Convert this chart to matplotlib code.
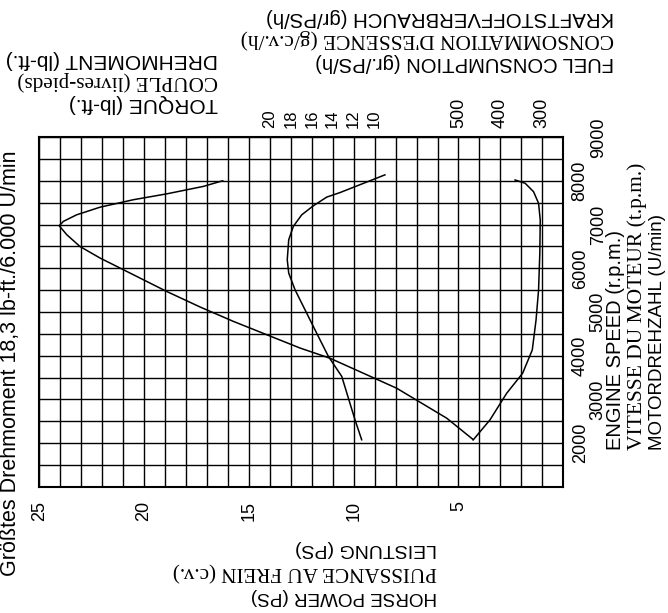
import numpy as np
import matplotlib.pyplot as plt

# ---- data ----
hp_ticks = [25, 20, 15, 10, 5]
torque_ticks = [20, 18, 16, 14, 12, 10]
fuel_ticks = [500, 400, 300]
rpm_even = [2000, 4000, 6000, 8000]
rpm_odd = [3000, 5000, 7000, 9000]

# horse power (PS) vs engine speed
hp_rpm = [2087, 2568, 3255, 3598, 3941, 4175, 4480, 4785, 5115, 5470, 5855,
          6235, 6500, 6770, 6975, 7075, 7225, 7400, 7570, 7705, 7875, 8005]
hp_ps = [4.32, 5.56, 7.95, 9.54, 11.13, 12.56, 14.15, 15.74, 17.33, 18.92, 20.52,
         22.1, 23.06, 23.69, 24.05, 23.85, 23.22, 22.1, 20.52, 18.92, 17.18, 16.25]

# torque (lb-ft) vs engine speed
tq_rpm = [2075, 2535, 3525, 3985, 4595, 5125, 5510, 5890, 6195, 6655, 6960,
          7225, 7430, 7630, 7735, 8140]
tq_lbft = [11.24, 11.88, 13.14, 14.42, 15.7, 16.8, 17.6, 18.2, 18.34, 18.2, 17.76,
           16.96, 15.86, 14.58, 13.3, 9.02]

# fuel consumption (g/PS/h) vs engine speed
fuel_rpm = [2071, 2529, 3140, 3598, 4131, 4818, 5505, 6352, 7107, 7489, 7755, 7947, 8023]
fuel_g = [465, 425, 385, 347, 324, 315, 309, 306, 305, 309, 321, 341, 365]

W, H = 668, 613
SANS = 'Liberation Sans'
SERIF = 'Liberation Serif'


def fx(x):
    return x / W


def fy(y):
    return 1 - y / H


fig = plt.figure(figsize=(W / 100, H / 100), dpi=100, facecolor='white')
ax = fig.add_axes([fx(39.3), fy(486.7), 524 / W, 349.4 / H])

ax.set_xlim(25, 0)
ax.set_ylim(1000, 9000)
ax.set_xticks(np.arange(0, 26, 1), minor=True)
ax.set_yticks(np.arange(1000, 9001, 500), minor=True)
ax.set_axisbelow(True)
for s in ax.spines.values():
    s.set_linewidth(1.5)

# power ticks at the bottom
ax.set_xticks(hp_ticks)
ax.set_xticklabels([str(v) for v in hp_ticks], rotation=90, family=SANS, fontsize=13)
ax.tick_params(axis='x', which='both', length=0, pad=10)

# engine speed ticks on the right, staggered
ax.yaxis.tick_right()
ax.set_yticks(rpm_even)
ax.set_yticklabels([str(v) for v in rpm_even], rotation=90, va='center',
                   family=SANS, fontsize=13)
ax.tick_params(axis='y', which='both', length=0, pad=6)
ax.grid(which='both', color='black', lw=1.0)

sec = ax.secondary_yaxis('right')
sec.set_yticks(rpm_odd)
sec.set_yticklabels([str(v) for v in rpm_odd], rotation=90, va='center',
                    family=SANS, fontsize=13)
sec.tick_params(length=0, pad=19)
sec.spines['right'].set_visible(False)

# torque scale: 10 lb-ft at 9 PS, 20 lb-ft at 14 PS
axt = ax.twiny()
axt.set_xlim(42, -8)
axt.set_xticks(torque_ticks)
axt.set_xticklabels([str(v) for v in torque_ticks], rotation=90, family=SANS, fontsize=12)
axt.tick_params(length=0, pad=7)
for s in axt.spines.values():
    s.set_visible(False)

# fuel scale: 500 at 5 PS, 300 at 1 PS
axf = ax.twiny()
axf.set_xlim(1500, 250)
axf.set_xticks(fuel_ticks)
axf.set_xticklabels([str(v) for v in fuel_ticks], rotation=90, family=SANS, fontsize=13)
axf.tick_params(length=0, pad=7)
for s in axf.spines.values():
    s.set_visible(False)

ax.plot(hp_ps, hp_rpm, color='black', lw=1.1)
axt.plot(tq_lbft, tq_rpm, color='black', lw=1.1)
axf.plot(fuel_g, fuel_rpm, color='black', lw=1.1)

# ---- labels ----
fig.text(fx(11), fy(150), 'Größtes Drehmoment 18,3 lb-ft./6.000 U/min', rotation=90,
         ha='center', va='top', family=SANS, fontsize=15.5)

for txt, y, fam, fs in [('DREHMOMENT (lb-ft.)', 59, SANS, 15),
                        ('COUPLE (livres-pieds)', 81, SERIF, 15.2),
                        ('TORQUE (lb-ft.)', 103.5, SANS, 15)]:
    fig.text(fx(218), fy(y), txt, rotation=180, ha='right', va='center',
             family=fam, fontsize=fs)

for txt, y, fam, fs in [('KRAFTSTOFFVERBRAUCH (gr/PS/h)', 17.7, SANS, 14.7),
                        ("CONSOMMATION D'ESSENCE (g/c.v./h)", 39.3, SERIF, 15.4),
                        ('FUEL CONSUMPTION (gr./PS/h)', 62.9, SANS, 14.6)]:
    fig.text(fx(614), fy(y), txt, rotation=180, ha='right', va='center',
             family=fam, fontsize=fs)

for txt, y, fam, fs in [('LEISTUNG (PS)', 548, SANS, 14),
                        ('PUISSANCE AU FREIN (c.v.)', 571, SERIF, 15.2),
                        ('HORSE POWER (PS)', 597, SANS, 13.6)]:
    fig.text(fx(437), fy(y), txt, rotation=180, ha='right', va='center',
             family=fam, fontsize=fs)

for txt, x, fam, fs in [('ENGINE SPEED (r.p.m.)', 615.5, SANS, 14.5),
                        ('VITESSE DU MOTEUR (t.p.m.)', 637.5, SERIF, 15.5),
                        ('MOTORDREHZAHL (U/min)', 658, SANS, 13.5)]:
    fig.text(fx(x), fy(450), txt, rotation=90, ha='center', va='bottom',
             family=fam, fontsize=fs)

fig.savefig('out.png', dpi=100, facecolor='white')
